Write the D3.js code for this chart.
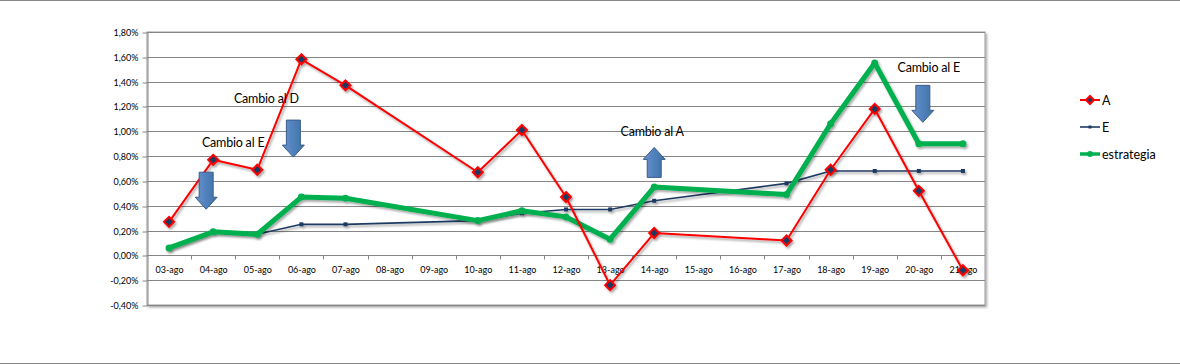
<!DOCTYPE html>
<html lang="es">
<head>
<meta charset="UTF-8">
<title>Cambios</title>
<script src="https://d3js.org/d3.v7.min.js"></script>
<style>
  body { margin: 0; background: #fff; overflow: hidden; }
  text { font-family: Lato, "Open Sans", sans-serif; }
</style>
</head>
<body>
<script>
const width = 1180, height = 364;

// data (null = no value that day, the line just joins across)
const days = ["03-ago","04-ago","05-ago","06-ago","07-ago","08-ago","09-ago","10-ago","11-ago","12-ago",
              "13-ago","14-ago","15-ago","16-ago","17-ago","18-ago","19-ago","20-ago","21-ago"];
const serieA = [0.27,0.77,0.69,1.58,1.37,null,null,0.67,1.01,0.47,-0.24,0.18,null,null,0.12,0.69,1.18,0.52,-0.12];
const serieE = [0.06,0.19,0.17,0.25,0.25,null,null,0.28,0.34,0.37,0.37,0.44,null,null,0.58,0.68,0.68,0.68,0.68];
const estrategia = [0.06,0.19,0.17,0.47,0.46,null,null,0.28,0.36,0.31,0.13,0.55,null,null,0.49,1.06,1.55,0.90,0.90];
const yTicks = [-0.4,-0.2,0,0.2,0.4,0.6,0.8,1.0,1.2,1.4,1.6,1.8];
const notas = [
  { text: "Cambio al E", day: "04-ago", dx: 20,  val: 0.875, arrow: "down", adx: -7, arrowTop: 0.67 },
  { text: "Cambio al D", day: "06-ago", dx: -35, val: 1.23,  arrow: "down", adx: -8, arrowTop: 1.09 },
  { text: "Cambio al A", day: "14-ago", dx: -2,  val: 0.964, arrow: "up",   adx: 0,  arrowTop: 0.87 },
  { text: "Cambio al E", day: "20-ago", dx: 10,  val: 1.48,  arrow: "down", adx: 4,  arrowTop: 1.37 }
];

const svg = d3.select("body").append("svg")
  .attr("width", width).attr("height", height);

const defs = svg.append("defs");
const sh = defs.append("filter").attr("id", "sombra")
  .attr("x", "-10%").attr("y", "-10%").attr("width", "130%").attr("height", "130%");
sh.append("feDropShadow").attr("dx", 1.5).attr("dy", 2).attr("stdDeviation", 1.2)
  .attr("flood-color", "#000").attr("flood-opacity", 0.35);
const grad = defs.append("linearGradient").attr("id", "flecha").attr("x1", 0).attr("x2", 1);
grad.append("stop").attr("offset", "0%").attr("stop-color", "#6b93c9");
grad.append("stop").attr("offset", "50%").attr("stop-color", "#4f81bd");
grad.append("stop").attr("offset", "100%").attr("stop-color", "#41709f");

// page lines
svg.append("line").attr("x1", 0).attr("x2", width).attr("y1", 0.5).attr("y2", 0.5).attr("stroke", "#888");
svg.append("line").attr("x1", 0).attr("x2", width).attr("y1", height - 0.5).attr("y2", height - 0.5).attr("stroke", "#888");

const plot = { left: 147, right: 985, top: 32, bottom: 305 };

const x = d3.scaleBand().domain(days).range([plot.left, plot.right]);
const y = d3.scaleLinear().domain([-0.4, 1.8]).range([plot.bottom, plot.top]);
const cx = d => x(d) + x.bandwidth() / 2;

// plot area frame with shadow
svg.append("rect")
  .attr("x", plot.left).attr("y", plot.top)
  .attr("width", plot.right - plot.left).attr("height", plot.bottom - plot.top)
  .attr("fill", "#fff").attr("stroke", "#999").attr("stroke-width", 1)
  .attr("filter", "url(#sombra)");

// gridlines
svg.append("g").selectAll("line").data(yTicks).join("line")
  .attr("x1", plot.left).attr("x2", plot.right)
  .attr("y1", d => Math.round(y(d)) + 0.5).attr("y2", d => Math.round(y(d)) + 0.5)
  .attr("stroke", "#868686").attr("stroke-width", 1);

// y axis
const fmt = d => d3.format(".2f")(d).replace(".", ",").replace("−", "-") + "%";
const yAxis = svg.append("g").attr("transform", `translate(${plot.left + 0.5},0.5)`)
  .call(d3.axisLeft(y).tickValues(yTicks).tickFormat(fmt).tickSize(5).tickSizeOuter(0));
yAxis.select(".domain").attr("stroke", "#868686");
yAxis.selectAll(".tick line").attr("stroke", "#868686").attr("transform", d => `translate(0,${Math.round(y(d)) - y(d)})`);
yAxis.selectAll("text").attr("font-size", 9).attr("fill", "#000").attr("x", -9)
  .attr("transform", d => `translate(0,${Math.round(y(d)) - y(d)})`);

// x axis at zero
const xAxis = svg.append("g").attr("transform", `translate(0.5,${Math.round(y(0)) + 0.5})`)
  .call(d3.axisBottom(x).tickSize(0).tickPadding(11));
xAxis.select(".domain").remove();
xAxis.selectAll("text").attr("font-size", 9).attr("fill", "#000");
xAxis.selectAll("line.sep").data(days.slice(1)).join("line").attr("class", "sep")
  .attr("x1", d => Math.round(x(d))).attr("x2", d => Math.round(x(d)))
  .attr("y1", 0).attr("y2", 4).attr("stroke", "#868686");

const pts = vals => days.map((d, i) => ({ d, v: vals[i] })).filter(p => p.v !== null);
const line = d3.line().x(p => cx(p.d)).y(p => y(p.v));

const series = [
  { name: "E", vals: serieE, color: "#1f3b63", w: 1.6, mark: "square", ms: 4 },
  { name: "estrategia", vals: estrategia, color: "#00b050", w: 5, mark: "circle", ms: 3.5 },
  { name: "A", vals: serieA, color: "#ff0000", w: 2, mark: "diamond", ms: 5 }
];

const drawMark = (g, s, px, py) => {
  if (s.mark === "diamond") {
    g.append("path").attr("d", `M${px},${py - s.ms}L${px + s.ms},${py}L${px},${py + s.ms}L${px - s.ms},${py}Z`)
      .attr("fill", "#1f3b63").attr("stroke", s.color).attr("stroke-width", 2);
  } else if (s.mark === "square") {
    g.append("rect").attr("x", px - s.ms / 2).attr("y", py - s.ms / 2)
      .attr("width", s.ms).attr("height", s.ms).attr("fill", s.color);
  } else {
    g.append("circle").attr("cx", px).attr("cy", py).attr("r", s.ms).attr("fill", s.color);
  }
};

series.forEach(s => {
  const g = svg.append("g").attr("filter", "url(#sombra)");
  g.append("path").datum(pts(s.vals)).attr("d", line)
    .attr("fill", "none").attr("stroke", s.color).attr("stroke-width", s.w)
    .attr("stroke-linejoin", "round");
  pts(s.vals).forEach(p => drawMark(g, s, cx(p.d), y(p.v)));
});

// annotations
notas.forEach(n => {
  svg.append("text").attr("x", cx(n.day) + n.dx).attr("y", y(n.val))
    .attr("text-anchor", "middle").attr("font-size", 12.5).attr("fill", "#000")
    .attr("letter-spacing", -0.2).text(n.text);
  const ax = cx(n.day) + n.adx;
  const top = y(n.arrowTop);
  const h = n.arrow === "down" ? 37 : 30, sw = 7, hw = 11, hh = 12;
  let d;
  if (n.arrow === "down") {
    d = `M${ax - sw},${top}L${ax + sw},${top}L${ax + sw},${top + h - hh}L${ax + hw},${top + h - hh}` +
        `L${ax},${top + h}L${ax - hw},${top + h - hh}L${ax - sw},${top + h - hh}Z`;
  } else {
    d = `M${ax},${top}L${ax + hw},${top + hh}L${ax + sw},${top + hh}L${ax + sw},${top + h}` +
        `L${ax - sw},${top + h}L${ax - sw},${top + hh}L${ax - hw},${top + hh}Z`;
  }
  svg.append("path").attr("d", d).attr("fill", "url(#flecha)")
    .attr("stroke", "#385d8a").attr("stroke-width", 1);
});

// legend
const legend = svg.append("g").attr("transform", "translate(1080,100)");
["A", "E", "estrategia"].forEach((nm, i) => {
  const s = series.find(t => t.name === nm);
  const g = legend.append("g").attr("transform", `translate(0,${i * 27})`);
  g.append("line").attr("x1", 0).attr("x2", 20).attr("y1", 0).attr("y2", 0)
    .attr("stroke", s.color).attr("stroke-width", Math.min(s.w, 3.5));
  drawMark(g, Object.assign({}, s, { ms: s.mark === "diamond" ? 4 : 3 }), 10, 0);
  g.append("text").attr("x", 22).attr("y", 4.5).attr("font-size", 12.5).attr("fill", "#000").text(nm);
});
</script>
</body>
</html>
